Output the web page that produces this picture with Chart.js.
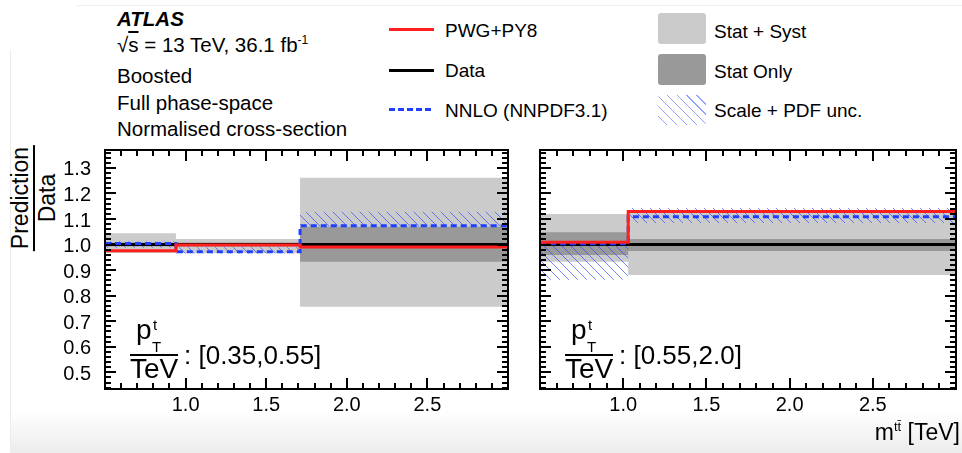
<!DOCTYPE html>
<html>
<head>
<meta charset="utf-8">
<script src="https://cdn.jsdelivr.net/npm/chart.js@4.4.1/dist/chart.umd.min.js"></script>
<style>
  body { margin: 0; background: #fff; }
  #wrap { position: relative; width: 962px; height: 453px; overflow: hidden; background: #fff;
          font-family: 'Liberation Sans', Arial, sans-serif; color: #000; }
  .t { position: absolute; white-space: nowrap; line-height: 1; }
  canvas { position: absolute; }
  .box { position: absolute; border-radius: 3px; }
</style>
</head>
<body>
<div id="wrap">
  <div style="position:absolute;left:10px;top:410px;right:0;height:43px;background:linear-gradient(#fff,#ececec);"></div>
  <div style="position:absolute;left:10px;top:50px;width:1px;height:403px;background:#ececec;"></div>
  <div style="position:absolute;left:77px;top:5px;right:0;height:1px;background:#efefef;"></div>

  <!-- info block -->
  <div class="t" style="left:117px;top:9px;font-size:20.5px;font-weight:bold;font-style:italic;">ATLAS</div>
  <div class="t" style="left:117px;top:34px;font-size:20.5px;">√<span style="text-decoration:overline;">s</span> = 13 TeV, 36.1 fb<sup style="font-size:12px;">-1</sup></div>
  <div class="t" style="left:117px;top:66px;font-size:20.5px;">Boosted</div>
  <div class="t" style="left:117px;top:93px;font-size:20.5px;">Full phase-space</div>
  <div class="t" style="left:117px;top:119px;font-size:20.5px;">Normalised cross-section</div>

  <!-- legend -->
  <div style="position:absolute;left:389px;top:28px;width:45px;height:3px;background:#ff1f1f;"></div>
  <div style="position:absolute;left:389px;top:69px;width:45px;height:3px;background:#000;"></div>
  <div style="position:absolute;left:389px;top:108px;width:45px;height:3px;background:repeating-linear-gradient(90deg,#1f3fff 0 6px,transparent 6px 9px);"></div>
  <div class="t" style="left:445px;top:21px;font-size:19px;">PWG+PY8</div>
  <div class="t" style="left:445px;top:61px;font-size:19px;">Data</div>
  <div class="t" style="left:445px;top:101px;font-size:19px;">NNLO (NNPDF3.1)</div>

  <div class="box" style="left:658px;top:13px;width:48px;height:31px;background:#cbcbcb;"></div>
  <div class="box" style="left:658px;top:54px;width:48px;height:31px;background:#999;"></div>
  <div class="box" style="left:658px;top:95px;width:48px;height:30px;background:repeating-linear-gradient(45deg,transparent 0 6px,rgba(40,70,255,0.5) 6px 7px);"></div>
  <div class="t" style="left:714px;top:22px;font-size:19px;">Stat + Syst</div>
  <div class="t" style="left:714px;top:62px;font-size:19px;">Stat Only</div>
  <div class="t" style="left:714px;top:101px;font-size:19px;">Scale + PDF unc.</div>

  <!-- y title -->
  <div style="position:absolute;left:34px;top:198px;width:0;height:0;">
    <div style="position:absolute;transform:translate(-50%,-50%) rotate(-90deg);text-align:center;font-size:23px;line-height:1;">
      <div style="border-bottom:2px solid #000;padding:0 2px 1px;">Prediction</div>
      <div style="padding-top:1px;">Data</div>
    </div>
  </div>

  <canvas id="left" width="520" height="290" style="left:0;top:140px;"></canvas>
  <canvas id="right" width="434" height="290" style="left:528px;top:140px;"></canvas>
  <canvas id="frames" width="962" height="453" style="left:0;top:0;"></canvas>

  <!-- pT bin labels -->
  <div class="t" style="left:136px;top:316px;font-size:28px;">p</div>
  <div class="t" style="left:153px;top:317px;font-size:15px;">t</div>
  <div class="t" style="left:152px;top:339px;font-size:15px;">T</div>
  <div style="position:absolute;left:130px;top:354px;width:48px;height:2px;background:#000;"></div>
  <div class="t" style="left:130px;width:48px;text-align:center;top:355px;font-size:28px;">TeV</div>
  <div class="t" style="left:184px;top:342px;font-size:26px;">: [0.35,0.55]</div>

  <div class="t" style="left:571px;top:316px;font-size:28px;">p</div>
  <div class="t" style="left:588px;top:317px;font-size:15px;">t</div>
  <div class="t" style="left:587px;top:339px;font-size:15px;">T</div>
  <div style="position:absolute;left:565px;top:354px;width:48px;height:2px;background:#000;"></div>
  <div class="t" style="left:565px;width:48px;text-align:center;top:355px;font-size:28px;">TeV</div>
  <div class="t" style="left:619px;top:342px;font-size:26px;">: [0.55,2.0]</div>

  <div class="t" style="right:2px;top:420px;font-size:23px;">m<sup style="font-size:13px;">tt̄</sup> [TeV]</div>
</div>

<script>
// bin edges in m(tt) [TeV]
const edgesLeft = [0.5, 0.94, 1.71, 3.0];
const edgesRight = [0.5, 1.03, 3.0];

// pT in [0.35, 0.55] TeV
const dataLeft = [1.0, 1.0, 1.0];
const pwgLeft = [0.976, 0.998, 0.991];
const nnloLeft = [1.004, 0.972, 1.074];
const totUpLeft = [1.044, 1.022, 1.261];
const totLoLeft = [0.967, 0.967, 0.757];
const statUpLeft = [1.008, 1.008, 1.070];
const statLoLeft = [0.992, 0.992, 0.933];
const scaleUpLeft = [1.012, 0.990, 1.128];
const scaleLoLeft = [0.988, 0.965, 1.073];

// pT in [0.55, 2.0] TeV
const dataRight = [1.0, 1.0];
const pwgRight = [1.009, 1.129];
const nnloRight = [1.003, 1.109];
const totUpRight = [1.120, 1.131];
const totLoRight = [0.933, 0.881];
const statUpRight = [1.048, 1.022];
const statLoRight = [0.959, 0.975];
const scaleUpRight = [1.006, 1.143];
const scaleLoRight = [0.862, 1.084];

const xTickLabels = [1.0, 1.5, 2.0, 2.5];
const yTickLabels = [0.5, 0.6, 0.7, 0.8, 0.9, 1.0, 1.1, 1.2, 1.3];

const xMin = 0.5;
const xMax = 3.0;
const yMin = 0.435;
const yMax = 1.37;

// Histogram points: one per bin edge, last bin value repeated at the end
function stepPoints(edges, values) {
  const pts = values.map((v, i) => ({x: edges[i], y: v}));
  pts.push({x: edges[edges.length - 1], y: values[values.length - 1]});
  return pts;
}

function makeHatch() {
  const c = document.createElement('canvas');
  c.width = 9;
  c.height = 9;
  const g = c.getContext('2d');
  g.strokeStyle = 'rgba(40,70,255,0.65)';
  g.lineWidth = 1;
  g.beginPath();
  g.moveTo(-1, -1);
  g.lineTo(10, 10);
  g.stroke();
  return g.createPattern(c, 'repeat');
}
const hatch = makeHatch();

function bandSets(edges, up, lo, fillColour) {
  return [
    {data: stepPoints(edges, up), borderColor: 'transparent', borderWidth: 0,
     backgroundColor: fillColour, fill: '+1', stepped: true},
    {data: stepPoints(edges, lo), borderColor: 'transparent', borderWidth: 0,
     fill: false, stepped: true},
  ];
}

function lineSet(edges, values, colour, dash) {
  return {
    data: stepPoints(edges, values),
    borderColor: colour,
    borderWidth: 3,
    borderDash: dash || [],
    fill: false,
    stepped: true,
  };
}

// Chart.js paints dataset 0 last, so the top-most layer comes first
function buildDatasets(edges, s) {
  return [
    lineSet(edges, s.pwg, '#ff1f1f'),
    lineSet(edges, s.nnlo, '#1f3fff', [6, 4]),
    lineSet(edges, s.data, '#000000'),
    ...bandSets(edges, s.scaleUp, s.scaleLo, hatch),
    ...bandSets(edges, s.statUp, s.statLo, '#999999'),
    ...bandSets(edges, s.totUp, s.totLo, '#cbcbcb'),
  ];
}

function makeChart(id, datasets, showY, padding) {
  const tickFont = {family: "'Liberation Sans', Arial, sans-serif", size: 20};
  return new Chart(document.getElementById(id), {
    type: 'line',
    data: {datasets},
    options: {
      responsive: false,
      animation: false,
      layout: {padding},
      plugins: {legend: {display: false}, tooltip: {enabled: false}},
      elements: {point: {radius: 0}, line: {tension: 0}},
      scales: {
        x: {
          type: 'linear', min: xMin, max: xMax,
          grid: {display: false}, border: {display: false},
          afterBuildTicks: s => { s.ticks = xTickLabels.map(v => ({value: v})); },
          afterFit: s => { s.height = 41; s.paddingLeft = 0; s.paddingRight = 0; },
          ticks: {color: '#000', font: tickFont, padding: -4, maxRotation: 0,
                  autoSkip: false, callback: v => v.toFixed(1)},
        },
        y: {
          type: 'linear', min: yMin, max: yMax,
          grid: {display: false}, border: {display: false},
          afterBuildTicks: s => { s.ticks = yTickLabels.map(v => ({value: v})); },
          afterFit: s => { s.width = showY ? 55 : 12; s.paddingTop = 0; s.paddingBottom = 0; },
          ticks: {display: showY, color: '#000', font: tickFont, padding: 6, labelOffset: 2,
                  autoSkip: false, callback: v => v.toFixed(1)},
        },
      },
    },
  });
}

// ROOT style frame with inward ticks on all four sides, drawn on an overlay
// canvas over the chart area (offX/offY = chart canvas position on the page)
function drawFrame(chart, offX, offY) {
  const ctx = document.getElementById('frames').getContext('2d');
  const a = chart.chartArea;
  const L = offX + a.left, R = offX + a.right, T = offY + a.top, B = offY + a.bottom;
  const yPix = v => Math.round(B - (v - yMin) / (yMax - yMin) * (B - T));
  const xPix = v => Math.round(L + (v - xMin) / (xMax - xMin) * (R - L));

  ctx.strokeStyle = '#000';
  ctx.lineWidth = 2;
  ctx.beginPath();
  for (let k = 22; k <= 68; k++) {
    const py = yPix(k / 50);
    const len = k % 5 === 0 ? 11 : 6;
    ctx.moveTo(L, py);
    ctx.lineTo(L + len, py);
    ctx.moveTo(R, py);
    ctx.lineTo(R - len, py);
  }
  for (let k = 5; k <= 30; k++) {
    const px = xPix(k / 10);
    const len = k % 5 === 0 ? 11 : 6;
    ctx.moveTo(px, B);
    ctx.lineTo(px, B - len);
    ctx.moveTo(px, T);
    ctx.lineTo(px, T + len);
  }
  ctx.stroke();
  ctx.strokeRect(L, T, R - L, B - T);
}

const leftChart = makeChart('left', buildDatasets(edgesLeft, {
  data: dataLeft, pwg: pwgLeft, nnlo: nnloLeft,
  totUp: totUpLeft, totLo: totLoLeft,
  statUp: statUpLeft, statLo: statLoLeft,
  scaleUp: scaleUpLeft, scaleLo: scaleLoLeft,
}), true, {left: 50, top: 10, right: 12, bottom: 0});

const rightChart = makeChart('right', buildDatasets(edgesRight, {
  data: dataRight, pwg: pwgRight, nnlo: nnloRight,
  totUp: totUpRight, totLo: totLoRight,
  statUp: statUpRight, statLo: statLoRight,
  scaleUp: scaleUpRight, scaleLo: scaleLoRight,
}), false, {left: 0, top: 10, right: 6, bottom: 0});

drawFrame(leftChart, 0, 140);
drawFrame(rightChart, 528, 140);
</script>
</body>
</html>
